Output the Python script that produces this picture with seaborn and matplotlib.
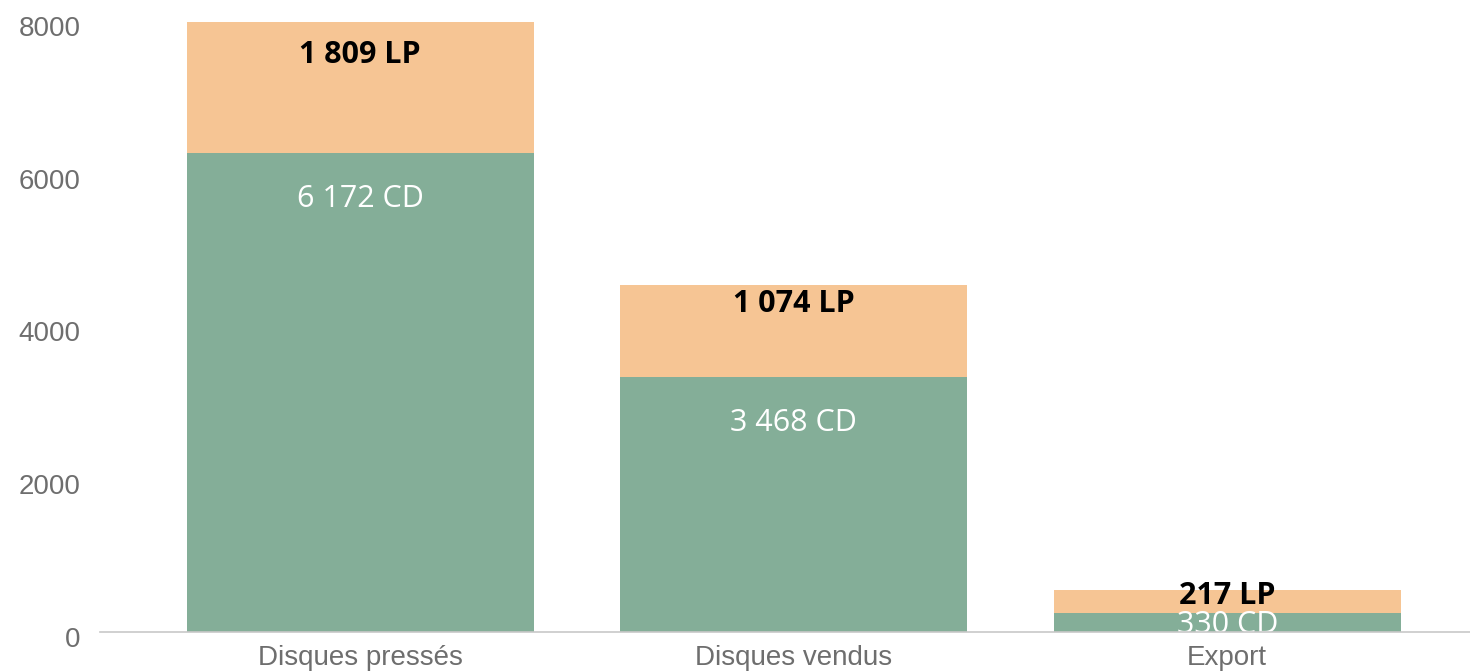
import numpy as np
import matplotlib
matplotlib.use("Agg")
import matplotlib.pyplot as plt
import matplotlib.transforms as mtransforms
import seaborn as sns

sns.set_theme(style="white")
plt.rcParams['font.family'] = ['Liberation Sans', 'DejaVu Sans']

# données
categories = ["Disques pressés", "Disques vendus", "Export"]
cd = [6270, 3340, 250]
lp = [1710, 1200, 300]
cd_labels = ["6 172 CD", "3 468 CD", "330 CD"]
lp_labels = ["1 809 LP", "1 074 LP", "217 LP"]
yticks = [0, 2000, 4000, 6000, 8000]

green = "#84ae98"
orange = "#f6c594"

totals = [c + l for c, l in zip(cd, lp)]

fig = plt.figure(figsize=(14.7, 6.71), dpi=100)
ax = fig.add_axes([0.068, 0.058, 0.932, 0.911])

sns.barplot(x=categories, y=totals, color=orange, saturation=1, width=0.8, linewidth=0, ax=ax)
sns.barplot(x=categories, y=cd, color=green, saturation=1, width=0.8, linewidth=0, ax=ax)

ax.set_xlim(-0.6, 2.56)
ax.set_ylim(0, 8000)
ax.set_yticks(yticks)
ax.set_yticklabels([str(v) for v in yticks])

# pixels par unité
px_per_unit = ax.bbox.height / 8000
pt = 72 / fig.dpi

for i in range(len(categories)):
    h_lp = lp[i] * px_per_unit
    h_cd = cd[i] * px_per_unit
    off_lp = max(6, 0.36 * h_lp - 14) * pt
    off_cd = min(46, 0.5 * h_cd + 2) * pt
    ax.annotate(lp_labels[i], (i, totals[i]), xytext=(0, -off_lp), textcoords="offset points",
                ha="center", va="center", fontsize=22, fontweight="bold", color="black",
                family=["Open Sans", "DejaVu Sans"])
    t = ax.annotate(cd_labels[i], (i, cd[i]), xytext=(0, -off_cd), textcoords="offset points",
                    ha="center", va="center", fontsize=22, fontweight="medium", color="white",
                    family=["Open Sans", "DejaVu Sans"])
    t.set_clip_on(True)

sns.despine(ax=ax, left=True, top=True, right=True)
ax.spines['bottom'].set_color("#c8c8c8")
ax.spines['bottom'].set_linewidth(1.2)
ax.spines['bottom'].set_zorder(5)
ax.tick_params(axis="both", length=0, labelsize=20, colors="#6e6e6e")
ax.tick_params(axis="x", pad=9)
ax.tick_params(axis="y", pad=14)

# les étiquettes de l'axe y sont un peu décalées vers le bas
shift = mtransforms.ScaledTranslation(0, -5 / 100, fig.dpi_scale_trans)
for lab in ax.get_yticklabels():
    lab.set_transform(lab.get_transform() + shift)

ax.set_xlabel("")
ax.set_ylabel("")
ax.grid(False)

fig.savefig("out.png", dpi=100)
